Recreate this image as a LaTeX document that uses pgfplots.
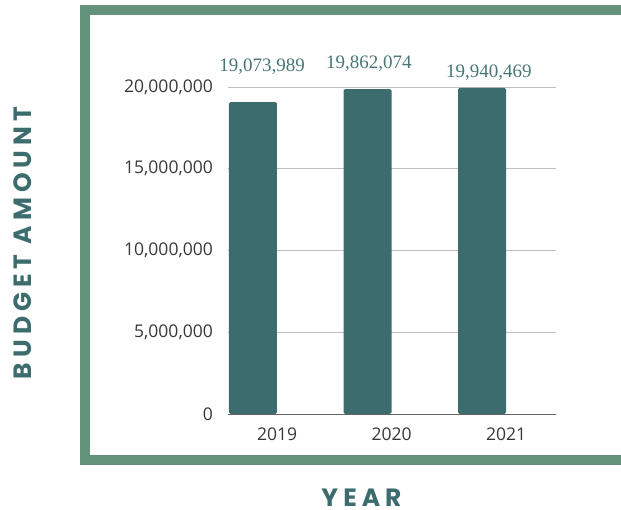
\documentclass[border=0pt]{standalone}
\usepackage{pgfplots}
\pgfplotsset{compat=1.18}
\usepackage{fontspec}
\setmainfont{Open Sans}
\newfontfamily\valfont{Liberation Serif}
\newfontfamily\titlefont[LetterSpace=20]{Poppins}

\definecolor{framegreen}{RGB}{99,146,123}
\definecolor{barteal}{RGB}{61,108,110}
\definecolor{valteal}{RGB}{72,118,118}
\definecolor{ticktext}{RGB}{55,55,55}

\pgfplotstableread{
x   budget
0   19073989
1   19862074
2   19940469
}\budget

\begin{document}
\begin{tikzpicture}[x=1pt,y=1pt]
\useasboundingbox (0,0) rectangle (621,510);
% frame, right side runs off the picture
\draw[framegreen, line width=10pt] (85,50) rectangle (680,500);

\begin{axis}[
    at={(228pt,96pt)}, anchor=south west,
    scale only axis, width=328pt, height=327pt,
    xmin=-0.2183, xmax=2.6463,
    ymin=0, ymax=20000000,
    clip=false,
    axis line style={draw=none},
    major tick length=0pt,
    xtick={0.21,1.21,2.21},
    xticklabels={2019,2020,2021},
    ytick={0,5000000,10000000,15000000,20000000},
    scaled y ticks=false,
    /pgf/number format/fixed,
    /pgf/number format/1000 sep={,},
    /pgf/number format/assume math mode=true,
    ymajorgrids,
    grid style={draw={rgb,255:red,190;green,190;blue,190}, line width=0.8pt},
    tick label style={font=\fontsize{17.5}{20}\selectfont, text=ticktext, inner sep=0pt},
    xticklabel style={anchor=north, yshift=-14pt},
    yticklabel style={anchor=east, xshift=-15pt},
]
\addplot[ybar, bar width=48pt, fill=barteal, draw=none, rounded corners=1.5pt]
    table[x=x, y=budget] {\budget};

\draw[draw={rgb,255:red,100;green,100;blue,100}, line width=0.9pt]
    (axis cs:-0.2183,0) -- (axis cs:2.6463,0);

% value labels above the bars
\begin{scope}[every node/.style={anchor=base, text=valteal, inner sep=0pt,
        font=\valfont\fontsize{19}{22}\selectfont}]
\node at (axis cs:0.079,20920000) {19,073,989};
\node at (axis cs:1.013,21160000) {19,862,074};
\node at (axis cs:2.061,20610000) {19,940,469};
\end{scope}
\end{axis}

\node[rotate=90, text=barteal, inner sep=0pt,
      font=\titlefont\bfseries\fontsize{25}{30}\selectfont] at (22.5,267) {BUDGET AMOUNT};
\node[text=barteal, inner sep=0pt,
      font=\titlefont\bfseries\fontsize{25}{30}\selectfont] at (361.5,12.5) {YEAR};
\end{tikzpicture}
\end{document}
